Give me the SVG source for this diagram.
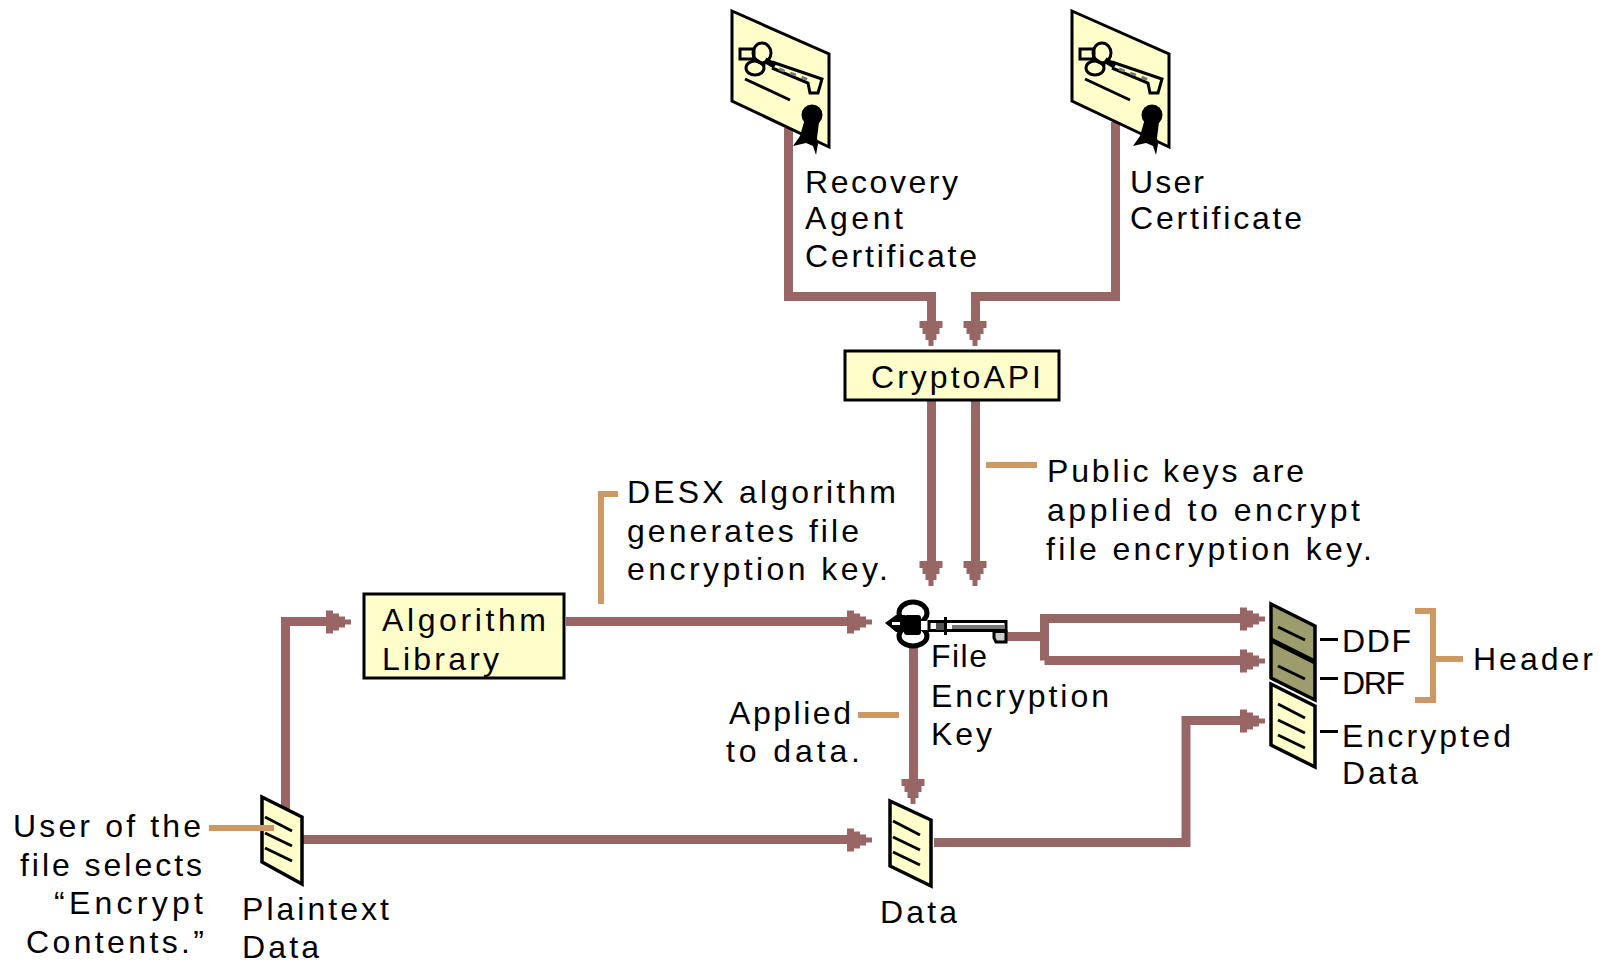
<svg xmlns="http://www.w3.org/2000/svg" width="1606" height="962" viewBox="0 0 1606 962">
<style>
text{font-family:"Liberation Sans",Arial,sans-serif;font-size:32px;fill:#000}
.c{fill:none;stroke:#996666;stroke-width:9;stroke-linejoin:miter}
.l{fill:none;stroke:#cc9966;stroke-width:6}
.t{stroke:#000;stroke-width:3}
.box{fill:#ffffcc;stroke:#000;stroke-width:3}
.doc{stroke:#000;stroke-width:3.500;stroke-linejoin:miter}
.dl{stroke:#000;stroke-width:3;fill:none}
</style>
<defs>
<marker id="h" markerUnits="userSpaceOnUse" markerWidth="26" markerHeight="26" viewBox="0 0 26 26" refX="1" refY="12" orient="auto">
<polygon points="0,1 7,1 7,4 13,4 13,7 19,7 19,10 25,10 25,15 19,15 19,18 13,18 13,21 7,21 7,24 0,24" fill="#996666"/>
</marker>
<g id="cert">
<polygon points="3,3 100,46 100,139 3,93" fill="#ffffcc" stroke="#000" stroke-width="3"/>
<g fill="none" stroke="#000" stroke-width="3">
<ellipse cx="33" cy="45" rx="9" ry="10"/>
<ellipse cx="26" cy="60" rx="9" ry="7"/>
<rect x="11" y="41" width="14" height="10"/>
<path d="M25,50 36,58 M43,54 93,71 89,85 81,85 79,75 43,60"/>
<path d="M16,71 61,92"/>
</g>
<path d="M36,52 46,58" stroke="#000" stroke-width="6" fill="none"/>
<path d="M50,61 80,72" stroke="#777" stroke-width="3" stroke-dasharray="6 6" fill="none"/>
<circle cx="83" cy="107" r="10.500" fill="#000"/>
<polygon points="75,114 90,114 88,130 89,136 87,147 84,138 77,135 64,138 71,128" fill="#000"/>
</g>
<g id="lines">
<path d="M4,20 31,34 M4,36 31,49 M4,51 31,64" class="dl"/>
</g>
</defs>

<g id="connectors">
<path class="c" d="M788.500,128V296.500H931.500V322" marker-end="url(#h)"/>
<path class="c" d="M1115.500,122V296.500H975.500V322" marker-end="url(#h)"/>
<path class="c" d="M931.500,400V562" marker-end="url(#h)"/>
<path class="c" d="M975.500,400V562" marker-end="url(#h)"/>
<path class="c" d="M566,621.500H848" marker-end="url(#h)"/>
<path class="c" d="M285.500,810V621.500H327" marker-end="url(#h)"/>
<path class="c" d="M302,839.500H848" marker-end="url(#h)"/>
<path class="c" d="M934,842.500H1186V720.500H1241" marker-end="url(#h)"/>
<path class="c" d="M913.500,640V780" marker-end="url(#h)"/>
<path class="c" d="M1005,636.500H1044.500"/>
<path class="c" d="M1044.500,660.500V618.500H1241" marker-end="url(#h)"/>
<path class="c" d="M1044.500,660.500H1241" marker-end="url(#h)"/>
</g>

<g id="recovery-cert"><use href="#cert" x="729" y="8"/></g>
<g id="user-cert"><use href="#cert" x="1069" y="8"/></g>

<g id="cryptoapi"><rect class="box" x="845" y="351" width="214" height="49"/></g>
<g id="algorithm-library"><rect class="box" x="364" y="594" width="200" height="84"/></g>

<g id="key">
<ellipse cx="913" cy="613" rx="14" ry="11" fill="#fff" stroke="#000" stroke-width="5"/>
<ellipse cx="913" cy="636" rx="14" ry="10" fill="#fff" stroke="#000" stroke-width="5"/>
<polygon points="885,623 896,615 905,615 905,632 896,632" fill="#000"/>
<rect x="892" y="622" width="8" height="3" fill="#fff"/>
<rect x="904" y="615" width="17" height="20" rx="3" fill="#000"/>
<rect x="921" y="621" width="8" height="9" fill="#fff"/>
<rect x="929" y="621.500" width="77" height="9" fill="#fff" stroke="#000" stroke-width="3"/>
<rect x="952" y="625" width="52" height="4" fill="#777"/>
<rect x="936" y="623" width="9" height="7" fill="#555"/>
<rect x="944" y="617" width="3" height="18" fill="#000"/>
<path d="M994,631.500H1006V642H996L994,638Z" fill="#ccc" stroke="#000" stroke-width="3"/>
</g>

<g id="plaintext-doc">
<polygon class="doc" points="262,797 302,817 302,884 262,862" fill="#ffffcc"/>
<use href="#lines" x="261" y="797"/>
</g>
<g id="data-doc">
<polygon class="doc" points="890,801 931,820 931,886 890,866" fill="#ffffcc"/>
<use href="#lines" x="889" y="801"/>
</g>
<g id="encrypted-doc">
<polygon class="doc" points="1271,684 1315,706 1315,767 1271,745" fill="#ffffcc"/>
<use href="#lines" x="1274" y="684"/>
</g>
<g id="header-doc">
<polygon class="doc" points="1271,604 1315,626 1315,700 1271,678" fill="#9c9c6c"/>
<path d="M1271,640 1315,662" stroke="#000" stroke-width="5"/>
<path d="M1278,627 1305,640 M1278,666 1305,679" class="dl"/>
</g>

<g id="ticks">
<path class="t" d="M1320,639.500H1338M1320,678.500H1338M1320,731.500H1338"/>
</g>
<g id="leaders">
<path class="l" d="M986,465H1037"/>
<path class="l" d="M618,494H601V604"/>
<path class="l" d="M858,715H899"/>
<path class="l" d="M209,828H274"/>
<path class="l" d="M1415,611H1433V700H1415M1433,659H1463"/>
</g>

<g id="labels">
<text x="805" y="193" textLength="153">Recovery</text>
<text x="805" y="229" textLength="98">Agent</text>
<text x="805" y="267" textLength="172">Certificate</text>
<text x="1130" y="193" textLength="74">User</text>
<text x="1130" y="229" textLength="172">Certificate</text>
<text x="871" y="388" textLength="170">CryptoAPI</text>
<text x="1047" y="482" textLength="257">Public keys are</text>
<text x="1047" y="521" textLength="313">applied to encrypt</text>
<text x="1046" y="560" textLength="326">file encryption key.</text>
<text x="627" y="503" textLength="269">DESX algorithm</text>
<text x="627" y="542" textLength="232">generates file</text>
<text x="627" y="580" textLength="261">encryption key.</text>
<text x="382" y="631" textLength="164">Algorithm</text>
<text x="382" y="670" textLength="117">Library</text>
<text x="931" y="667" textLength="56">File</text>
<text x="931" y="707" textLength="178">Encryption</text>
<text x="931" y="745" textLength="61">Key</text>
<text x="729" y="724" textLength="122">Applied</text>
<text x="726" y="762" textLength="134">to data.</text>
<text x="13" y="837" textLength="188">User of the</text>
<text x="20" y="876" textLength="182">file selects</text>
<text x="54" y="914" textLength="149">“Encrypt</text>
<text x="26" y="953" textLength="178">Contents.”</text>
<text x="242" y="920" textLength="147">Plaintext</text>
<text x="242" y="958" textLength="77">Data</text>
<text x="880" y="923" textLength="77">Data</text>
<text x="1342" y="652" textLength="69">DDF</text>
<text x="1342" y="694" textLength="63">DRF</text>
<text x="1473" y="670" textLength="120">Header</text>
<text x="1342" y="747" textLength="169">Encrypted</text>
<text x="1342" y="784" textLength="76">Data</text>
</g>
</svg>
